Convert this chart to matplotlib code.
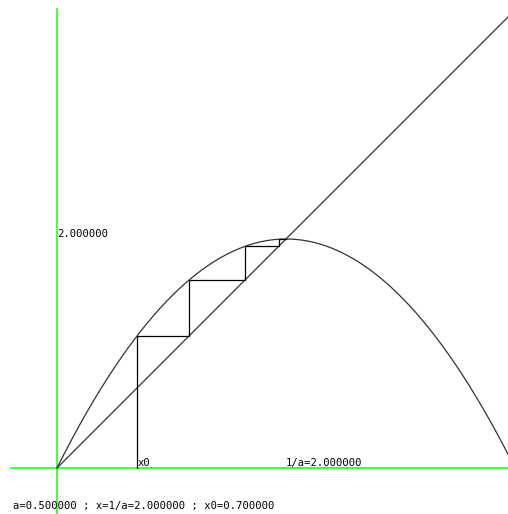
import numpy as np
import matplotlib
matplotlib.use("Agg")
import matplotlib.pyplot as plt

# parameters of the map f(x) = x * (2 - a x)
a = 0.5
x0 = 0.7
n_iter = 7
fixed_label = "2.000000"
x0_label = "x0"
fixed_x_label = "1/a=2.000000"
caption = "a=0.500000 ; x=1/a=2.000000 ; x0=0.700000"

def f(x):
    return x * (2 - a * x)

W, H, DPI = 508, 514, 100
fig = plt.figure(figsize=(W / DPI, H / DPI), dpi=DPI)
ax = fig.add_axes([0, 0, 1, 1])
scale = 114.5
ox, oy = 57, 468
ax.set_xlim(-ox / scale, (W - ox) / scale)
ax.set_ylim(-(H - oy) / scale, oy / scale)
ax.axis("off")

green = "#22ff22"
ax.plot([-0.4, 4.5], [0, 0], color=green, lw=1.2)
ax.plot([0, 0], [-0.5, 4.01], color=green, lw=1.2)

# diagonal
ax.plot([0, 4.5], [0, 4.5], color="#333333", lw=0.9)

# curve
xs = np.linspace(0, 4.5, 600)
ax.plot(xs, f(xs), color="#333333", lw=0.9)

# cobweb
px = [x0, x0]
py = [0, f(x0)]
x = x0
for _ in range(n_iter):
    y = f(x)
    px.append(y); py.append(y)
    px.append(y); py.append(f(y))
    x = y
ax.plot(px, py, color="black", lw=0.9)

fs = 7.6
mono = "DejaVu Sans Mono"
ax.text(0, 2.0, fixed_label, family=mono, fontsize=fs, ha="left", va="bottom")
ax.text(x0, 0.0, x0_label, family=mono, fontsize=fs, ha="left", va="bottom")
ax.text(1 / a, 0.0, fixed_x_label, family=mono, fontsize=fs, ha="left", va="bottom")
fig.text(13 / W, 1 - 506 / H, caption, family=mono, fontsize=fs, ha="left", va="center")

fig.savefig("out.png", dpi=DPI)
